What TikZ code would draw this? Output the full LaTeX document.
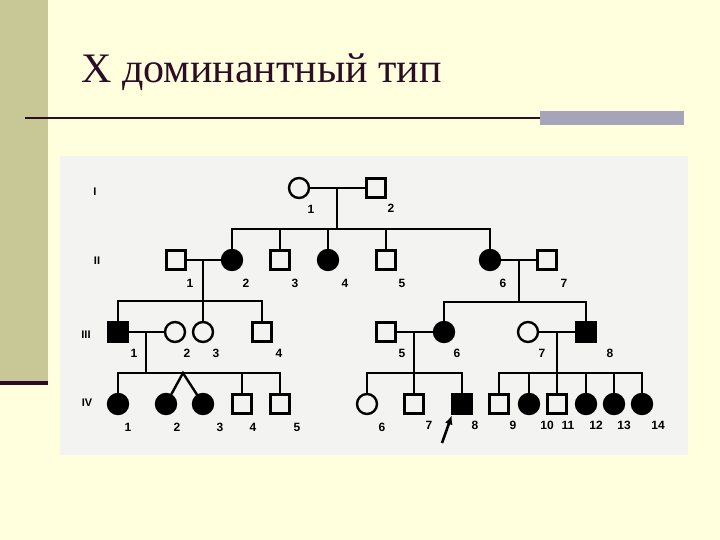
\documentclass[tikz,border=0pt]{standalone}
\usepackage{fontspec}
\newfontfamily\titlefont{Liberation Serif}
\newfontfamily\numfont{Liberation Sans}
\usetikzlibrary{arrows.meta}
\definecolor{slidebg}{RGB}{255,255,222}
\definecolor{olivebar}{RGB}{200,200,150}
\definecolor{darkplum}{RGB}{45,12,38}
\definecolor{greybar}{RGB}{166,164,184}
\definecolor{photobg}{RGB}{243,243,241}
\begin{document}
\begin{tikzpicture}[x=1pt,y=-1pt,line width=2.4pt,
  male/.style={draw, rectangle, minimum size=19pt, inner sep=0pt, outer sep=0pt},
  female/.style={draw, circle, minimum size=20pt, inner sep=0pt, outer sep=0pt},
  ill/.style={fill=black},
  num/.style={font=\numfont\bfseries\fontsize{12}{12}\selectfont, inner sep=0pt},
  gen/.style={font=\numfont\bfseries\fontsize{11}{11}\selectfont, inner sep=0pt}]
\useasboundingbox (0,0) rectangle (720,540);
\fill[slidebg] (0,0) rectangle (720,540);
\fill[olivebar] (0,0) rectangle (48,381);
\fill[darkplum] (0,381) rectangle (48,385);
\fill[greybar] (540,111) rectangle (684,125);
\draw[darkplum,line width=2pt] (25,118) -- (540,118);
\node[anchor=base west, inner sep=0pt, text=darkplum,
  font=\titlefont\fontsize{42}{42}\selectfont] (title) at (80,83) {Х доминантный тип};
\fill[photobg] (60,156) rectangle (688,455);

% generation I
\node[female]      (i1) at (299,188) {};
\node[male]        (i2) at (376,188) {};
% generation II
\node[male]        (ii1) at (176,260) {};
\node[female,ill]  (ii2) at (232,260) {};
\node[male]        (ii3) at (280,260) {};
\node[female,ill]  (ii4) at (328,260) {};
\node[male]        (ii5) at (386,260) {};
\node[female,ill]  (ii6) at (490,260) {};
\node[male]        (ii7) at (547,260) {};
% generation III
\node[male,ill]    (iii1) at (118,332) {};
\node[female]      (iii2) at (175,332) {};
\node[female]      (iii3) at (203,332) {};
\node[male]        (iii4) at (262,332) {};
\node[male]        (iii5) at (386,332) {};
\node[female,ill]  (iii6) at (444,332) {};
\node[female]      (iii7) at (528,332) {};
\node[male,ill]    (iii8) at (586,332) {};
% generation IV
\node[female,ill]  (iv1) at (118,404) {};
\node[female,ill]  (iv2) at (166,404) {};
\node[female,ill]  (iv3) at (203,404) {};
\node[male]        (iv4) at (242,404) {};
\node[male]        (iv5) at (280,404) {};
\node[female]      (iv6) at (367,404) {};
\node[male]        (iv7) at (414,404) {};
\node[male,ill]    (iv8) at (462,404) {};
\node[male]        (iv9) at (499,404) {};
\node[female,ill]  (iv10) at (529,404) {};
\node[male]        (iv11) at (557,404) {};
\node[female,ill]  (iv12) at (586,404) {};
\node[female,ill]  (iv13) at (614,404) {};
\node[female,ill]  (iv14) at (642,404) {};

% marriages and sibships
\coordinate (m1) at (337,188);
\coordinate (s1) at (337,229);
\draw (i1) -- (i2);
\draw (m1) -- (s1);
\draw (ii2) -- (ii2 |- s1) -- (ii6 |- s1) -- (ii6);
\draw (ii3) -- (ii3 |- s1);
\draw (ii4) -- (ii4 |- s1);
\draw (ii5) -- (ii5 |- s1);

\coordinate (m2) at (203,260);
\coordinate (s2) at (203,301);
\draw (ii1) -- (ii2);
\draw (m2) -- (iii3);
\draw (iii1) -- (iii1 |- s2) -- (iii4 |- s2) -- (iii4);

\coordinate (m3) at (519,260);
\coordinate (s3) at (519,302);
\draw (ii6) -- (ii7);
\draw (m3) -- (s3);
\draw (iii6) -- (iii6 |- s3) -- (iii8 |- s3) -- (iii8);

\coordinate (m4) at (146,332);
\coordinate (s4) at (146,373);
\coordinate (tw) at (183,373);
\draw (iii1) -- (iii2);
\draw (m4) -- (s4);
\draw (iv1) -- (iv1 |- s4) -- (iv5 |- s4) -- (iv5);
\draw (iv2) -- (tw) -- (iv3);
\draw (iv4) -- (iv4 |- s4);

\coordinate (m5) at (414,332);
\coordinate (s5) at (414,373);
\draw (iii5) -- (iii6);
\draw (m5) -- (iv7);
\draw (iv6) -- (iv6 |- s5) -- (iv8 |- s5) -- (iv8);

\coordinate (m6) at (557,332);
\coordinate (s6) at (557,373);
\draw (iii7) -- (iii8);
\draw (m6) -- (iv11);
\draw (iv9) -- (iv9 |- s6) -- (iv14 |- s6) -- (iv14);
\draw (iv10) -- (iv10 |- s6);
\draw (iv12) -- (iv12 |- s6);
\draw (iv13) -- (iv13 |- s6);

% proband
\coordinate (pa) at (442,443);
\draw[line width=2.6pt,-{Latex[length=9pt,width=8pt]},shorten >=2pt] (pa) -- (iv8.south west);

% generation numbers
\node[gen] (gi) at (95,192) {I};
\node[gen] (gii) at (97,261) {II};
\node[gen] (giii) at (86,335) {III};
\node[gen] (giv) at (87,403) {IV};

% individual numbers
\node[num] (ni1) at (311,209) {1};
\node[num] (ni2) at (391,208) {2};
\node[num] (nii1) at (190,283) {1};
\node[num] (nii2) at (246,283) {2};
\node[num] (nii3) at (295,283) {3};
\node[num] (nii4) at (345,283) {4};
\node[num] (nii5) at (402,283) {5};
\node[num] (nii6) at (503,283) {6};
\node[num] (nii7) at (564,283) {7};
\node[num] (niii1) at (134,353) {1};
\node[num] (niii2) at (187,353) {2};
\node[num] (niii3) at (216,353) {3};
\node[num] (niii4) at (279,353) {4};
\node[num] (niii5) at (402,353) {5};
\node[num] (niii6) at (457,353) {6};
\node[num] (niii7) at (542,353) {7};
\node[num] (niii8) at (610,353) {8};
\node[num] (niv1) at (128,427) {1};
\node[num] (niv2) at (177,427) {2};
\node[num] (niv3) at (220,427) {3};
\node[num] (niv4) at (253,427) {4};
\node[num] (niv5) at (297,427) {5};
\node[num] (niv6) at (382,427) {6};
\node[num] (niv7) at (429,425) {7};
\node[num] (niv8) at (475,425) {8};
\node[num] (niv9) at (513,425) {9};
\node[num] (niv10) at (547,425) {10};
\node[num] (niv11) at (568,425) {11};
\node[num] (niv12) at (596,425) {12};
\node[num] (niv13) at (624,425) {13};
\node[num] (niv14) at (658,425) {14};
\end{tikzpicture}
\end{document}
